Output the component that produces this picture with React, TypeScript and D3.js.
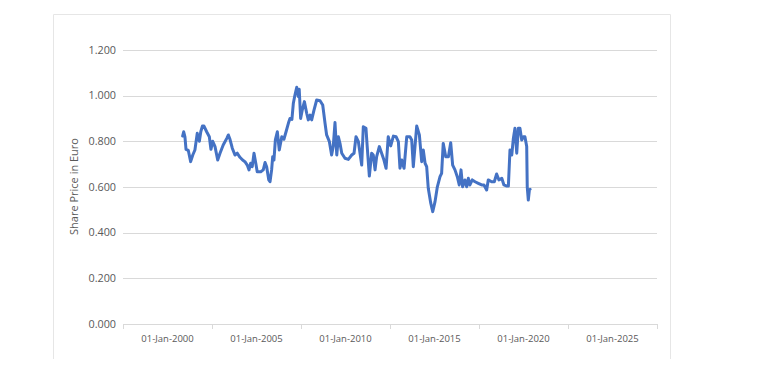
import React from "react";
import * as d3 from "d3";

// Decimal-year dates of each observation
const dates: number[] = [
  2000.85, 2000.91, 2000.98, 2001.04, 2001.17, 2001.30, 2001.42, 2001.54, 2001.67, 2001.79,
  2001.87, 2001.96, 2002.05, 2002.20, 2002.35, 2002.44, 2002.54, 2002.67, 2002.82, 2002.95,
  2003.13, 2003.33, 2003.42, 2003.51, 2003.64, 2003.79, 2003.92, 2004.07, 2004.22, 2004.35,
  2004.48, 2004.58, 2004.67, 2004.76, 2004.86, 2004.96, 2005.04, 2005.24, 2005.38, 2005.48,
  2005.57, 2005.69, 2005.76, 2005.85, 2005.91, 2005.98, 2006.06, 2006.17, 2006.28, 2006.42,
  2006.54, 2006.66, 2006.79, 2006.88, 2006.99, 2007.07, 2007.16, 2007.26, 2007.35, 2007.40,
  2007.48, 2007.57, 2007.69, 2007.82, 2007.91, 2008.01, 2008.10, 2008.23, 2008.38, 2008.57,
  2008.72, 2008.85, 2008.94, 2009.09, 2009.22, 2009.31, 2009.41, 2009.51, 2009.60, 2009.69,
  2009.79, 2009.97, 2010.16, 2010.35, 2010.48, 2010.59, 2010.72, 2010.91, 2011.00, 2011.15,
  2011.22, 2011.34, 2011.47, 2011.56, 2011.66, 2011.75, 2011.90, 2012.16, 2012.28, 2012.40,
  2012.54, 2012.69, 2012.84, 2012.97, 2013.06, 2013.16, 2013.29, 2013.44, 2013.62, 2013.72,
  2013.81, 2014.00, 2014.15, 2014.28, 2014.37, 2014.47, 2014.56, 2014.65, 2014.79, 2014.90,
  2015.03, 2015.16, 2015.31, 2015.40, 2015.49, 2015.63, 2015.78, 2015.91, 2016.02, 2016.15,
  2016.28, 2016.39, 2016.49, 2016.58, 2016.71, 2016.81, 2016.90, 2016.99, 2017.12, 2017.28,
  2017.46, 2017.65, 2017.78, 2017.93, 2018.02, 2018.21, 2018.36, 2018.49, 2018.62, 2018.78,
  2018.90, 2019.06, 2019.15, 2019.24, 2019.34, 2019.43, 2019.52, 2019.62, 2019.71, 2019.80,
  2019.90, 2019.99, 2020.08, 2020.18, 2020.21, 2020.27, 2020.33, 2020.37,
];

// Share price in Euro
const prices: number[] = [
  0.823, 0.842, 0.820, 0.765, 0.760, 0.711, 0.740, 0.762, 0.835, 0.800,
  0.842, 0.867, 0.867, 0.842, 0.820, 0.765, 0.800, 0.777, 0.718, 0.748,
  0.784, 0.813, 0.828, 0.809, 0.770, 0.740, 0.748, 0.730, 0.718, 0.711,
  0.696, 0.675, 0.704, 0.689, 0.748, 0.704, 0.667, 0.667, 0.675, 0.707,
  0.689, 0.631, 0.623, 0.675, 0.733, 0.718, 0.806, 0.842, 0.762, 0.820,
  0.809, 0.842, 0.879, 0.900, 0.896, 0.967, 1.003, 1.037, 0.996, 1.028,
  0.900, 0.937, 0.974, 0.923, 0.894, 0.915, 0.894, 0.937, 0.981, 0.978,
  0.959, 0.879, 0.828, 0.800, 0.740, 0.777, 0.882, 0.740, 0.820, 0.791,
  0.748, 0.726, 0.721, 0.740, 0.748, 0.820, 0.800, 0.696, 0.864, 0.857,
  0.777, 0.648, 0.748, 0.740, 0.675, 0.733, 0.777, 0.718, 0.682, 0.820,
  0.780, 0.823, 0.820, 0.799, 0.682, 0.718, 0.682, 0.820, 0.820, 0.806,
  0.689, 0.867, 0.828, 0.711, 0.762, 0.704, 0.689, 0.594, 0.529, 0.492,
  0.536, 0.601, 0.645, 0.660, 0.791, 0.733, 0.733, 0.794, 0.696, 0.675,
  0.645, 0.609, 0.675, 0.601, 0.631, 0.601, 0.638, 0.609, 0.631, 0.623,
  0.616, 0.609, 0.609, 0.587, 0.631, 0.623, 0.623, 0.657, 0.631, 0.638,
  0.609, 0.604, 0.604, 0.762, 0.740, 0.813, 0.857, 0.748, 0.857, 0.857,
  0.806, 0.820, 0.820, 0.777, 0.601, 0.543, 0.587, 0.590,
];

const yTicks: number[] = [0, 0.2, 0.4, 0.6, 0.8, 1.0, 1.2];
const xLabelYears: number[] = [2000, 2005, 2010, 2015, 2020, 2025];
const xLabels: string[] = [
  "01-Jan-2000", "01-Jan-2005", "01-Jan-2010", "01-Jan-2015", "01-Jan-2020", "01-Jan-2025",
];
const xDomain: [number, number] = [1997.5, 2027.5];
const yTitle = "Share Price in Euro";

const W = 758;
const H = 377;
const plot = { left: 123, right: 657, top: 50, bottom: 324 };
const FONT = "'Open Sans', 'Noto Sans', sans-serif";
const TEXT = "#595959";
const GRID = "#d9d9d9";

export default function App() {
  const x = d3.scaleLinear().domain(xDomain).range([plot.left, plot.right]);
  const y = d3.scaleLinear().domain([0, 1.2]).range([plot.bottom, plot.top]);
  const pts = dates.map((d, i) => [d, prices[i]] as [number, number]);
  const line = d3
    .line<[number, number]>()
    .x((d) => x(d[0]))
    .y((d) => y(d[1]));
  const tickYears = d3.range(xLabelYears.length + 1).map((i) => xDomain[0] + i * 5);

  return (
    <svg
      width={W}
      height={H}
      style={{ position: "absolute", left: 0, top: 0, background: "#fff" }}
      fontFamily={FONT}
    >
      <rect x={0} y={0} width={W} height={H} fill="#fff" />
      {/* chart frame */}
      <path d="M53.5,359 V14.5 H670.5 V359" fill="none" stroke="#e6e6e6" strokeWidth={1} />
      {/* gridlines */}
      {yTicks.map((t) => (
        <line
          key={t}
          x1={plot.left}
          x2={plot.right}
          y1={Math.round(y(t)) + 0.5}
          y2={Math.round(y(t)) + 0.5}
          stroke={GRID}
          strokeWidth={1}
        />
      ))}
      {/* y tick labels */}
      {yTicks.map((t) => (
        <text
          key={"l" + t}
          x={116}
          y={y(t)}
          dy="0.35em"
          textAnchor="end"
          fontSize={10.8}
          fill={TEXT}
        >
          {d3.format(".3f")(t)}
        </text>
      ))}
      {/* x tick marks */}
      {tickYears.map((t) => (
        <line
          key={"t" + t}
          x1={Math.round(x(t)) + 0.5}
          x2={Math.round(x(t)) + 0.5}
          y1={plot.bottom}
          y2={plot.bottom + 5}
          stroke={GRID}
          strokeWidth={1}
        />
      ))}
      {/* x labels */}
      {xLabelYears.map((yr, i) => (
        <text
          key={"x" + yr}
          x={x(yr)}
          y={342}
          textAnchor="middle"
          fontSize={9.5}
          fill={TEXT}
        >
          {xLabels[i]}
        </text>
      ))}
      {/* axis title */}
      <text
        transform={`translate(78,186.5) rotate(-90)`}
        textAnchor="middle"
        fontSize={11}
        fill={TEXT}
      >
        {yTitle}
      </text>
      {/* data line */}
      <path
        d={line(pts) || ""}
        fill="none"
        stroke="#4472C4"
        strokeWidth={3}
        strokeLinejoin="round"
        strokeLinecap="round"
      />
    </svg>
  );
}
